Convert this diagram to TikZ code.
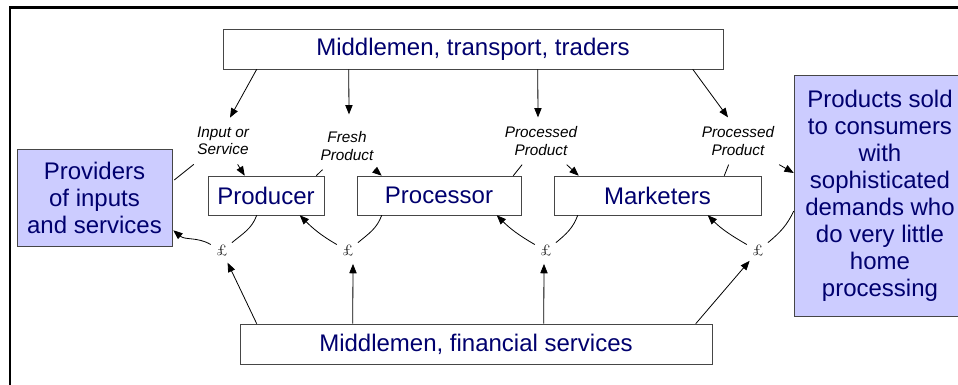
\documentclass[tikz,border=0pt]{standalone}
\usepackage{fontspec}
\setsansfont{Liberation Sans}
\usepackage{tikz}
\usetikzlibrary{arrows.meta, positioning, calc}
\definecolor{navy}{RGB}{0,0,110}
\definecolor{lavender}{RGB}{204,204,255}
\definecolor{edge}{RGB}{70,70,70}

\begin{document}
\begin{tikzpicture}[x=0.75pt, y=0.75pt,
    every node/.style={font=\sffamily},
    box/.style={draw=edge, fill=white, text=navy, font=\sffamily\fontsize{18}{20.25}\selectfont, align=center, inner sep=0pt},
    endbox/.style={box, fill=lavender},
    lbl/.style={font=\sffamily\itshape\fontsize{11.5}{13}\selectfont, align=center, inner sep=3pt, outer sep=4pt},
    cash/.style={circle, minimum size=19pt, inner sep=0pt, font=\rmfamily\fontsize{11.5}{11.5}\selectfont},
    flow/.style={-{Triangle[length=7pt, width=5.5pt]}, line width=0.6pt},
    link/.style={line width=0.6pt}]
  \useasboundingbox (0,0) rectangle (958,385);
  \draw[line width=1.6pt] (10,0) -- (10,377.5) -- (958,377.5);

  % the chain
  \node[box, minimum width=375pt, minimum height=30pt] (trans) at (473,336) {Middlemen, transport, traders};
  \node[endbox, minimum width=116.25pt, minimum height=72.75pt] (prov) at (94.5,187.5) {Providers\\of inputs\\and services};
  \node[box, minimum width=87pt, minimum height=29.25pt] (prod) at (266,189.5) {Producer};
  \node[box, minimum width=123pt, minimum height=29.25pt] (proc) at (439,189.5) {Processor};
  \node[box, minimum width=155.25pt, minimum height=29.25pt] (mark) at (657.5,189.5) {Marketers};
  \node[endbox, minimum width=129pt, minimum height=180.75pt] (cons) at (880,189.5) {Products sold\\to consumers\\with\\sophisticated\\demands who\\do very little\\home\\processing};
  \node[box, minimum width=354pt, minimum height=30pt] (fin) at (476,41) {Middlemen, financial services};

  % goods going forward
  \node[lbl] (inA) at (223,244) {Input or\\Service};
  \node[lbl] (frA) at (347,239) {Fresh\\Product};
  \node[lbl] (prA) at (541,244) {Processed\\Product};
  \node[lbl] (prB) at (738,244) {Processed\\Product};

  \draw[flow] ($(trans.south west)+(34,0)$) -- ($(inA.north)+(7,0)$);
  \draw[flow] ($(trans.south west)+(126,0)$) -- ($(frA.north)+(2,8)$);
  \draw[flow] ($(trans.south west)+(315,0)$) -- ($(prA.north)+(-3,0)$);
  \draw[flow] ($(trans.south west)+(470,0)$) -- ($(prB.north)+(-10,0)$);

  \draw[link] ($(prov.east)+(2,17.5)$) -- (inA);
  \draw[flow] (inA) -- ($(prod.north west)+(37,0)$);
  \draw[link] ($(prod.north east)+(-8,0)$) -- (frA);
  \draw[flow] (frA) -- ($(proc.north west)+(25,0)$);
  \draw[link] ($(proc.north east)+(-8,0)$) -- (prA);
  \draw[flow] (prA) -- ($(mark.north west)+(25,0)$);
  \draw[link] ($(mark.north east)+(-37,0)$) -- (prB);
  \draw[flow] (prB) -- ($(cons.west)+(0,22.5)$);

  % money going back
  \node[cash] (pA) at (222,134) {£};
  \node[cash] (pB) at (348,134) {£};
  \node[cash] (pC) at (546,134) {£};
  \node[cash] (pD) at (758,134) {£};

  \draw[link] ($(prod.south west)+(49,0)$) to[out=-110, in=40] (pA);
  \draw[flow] (pA) to[out=150, in=-40] ($(prov.south east)+(1,16)$);
  \draw[link] ($(proc.south west)+(25,0)$) to[out=-110, in=40] (pB);
  \draw[flow] (pB) to[out=150, in=-45] ($(prod.south west)+(92,0)$);
  \draw[link] ($(mark.south west)+(24,0)$) to[out=-110, in=40] (pC);
  \draw[flow] (pC) to[out=150, in=-45] ($(proc.south west)+(140,0)$);
  \draw[link] ($(cons.west)+(0,-15.5)$) to[out=-115, in=40] (pD);
  \draw[flow] (pD) to[out=150, in=-45] ($(mark.south west)+(154,0)$);

  \draw[flow] ($(fin.north west)+(17,0)$) -- (pA);
  \draw[flow] ($(fin.north west)+(113,0)$) -- ($(pB.south)+(5,0)$);
  \draw[flow] ($(fin.north west)+(304,0)$) -- ($(pC.south)+(-2,0)$);
  \draw[flow] ($(fin.north west)+(456,0)$) -- (pD);
\end{tikzpicture}
\end{document}
